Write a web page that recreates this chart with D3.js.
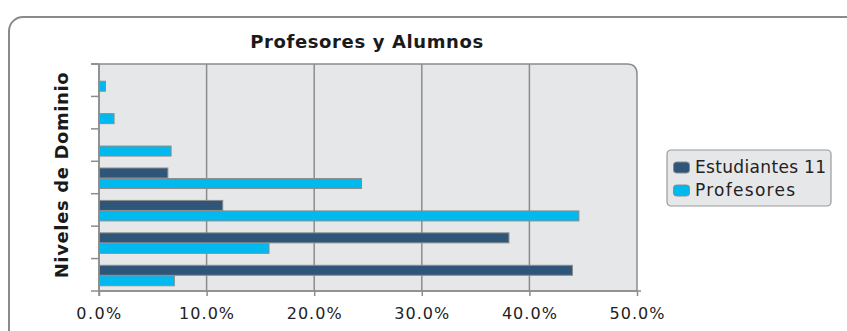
<!DOCTYPE html>
<html><head><meta charset="utf-8">
<script src="https://cdn.jsdelivr.net/npm/d3@7"></script>
<style>body{margin:0;background:#fff;} svg{display:block;font-family:"DejaVu Sans",sans-serif;}</style>
</head><body>
<svg id="c" width="847" height="331"></svg>
<script>
const categories = ["Nivel 1","Nivel 2","Nivel 3","Nivel 4","Nivel 5","Nivel 6","Nivel 7"];
const seriesNames = ["Estudiantes 11","Profesores"];
const estudiantes = [44.0, 38.1, 11.5, 6.4, 0, 0, 0];
const profesores = [7.0, 15.8, 44.6, 24.4, 6.7, 1.4, 0.6];
const xTicks = [0,10,20,30,40,50];
const colors = ["#2f5679","#00b9ef"];
const title = "Profesores y Alumnos";
const yTitle = "Niveles de Dominio";

const svg = d3.select("#c");
function fit(sel, target){
  const node = sel.node();
  const len = node.getComputedTextLength();
  const n = node.textContent.length;
  if(n>1) sel.attr("letter-spacing", ((target-len)/(n-1)).toFixed(2)+"px");
  return sel;
}
// outer frame
svg.append("rect").attr("x",9).attr("y",17).attr("width",860).attr("height",340)
  .attr("rx",14).attr("fill","#fff").attr("stroke","#8a8a8a").attr("stroke-width",2);

const L=99, R=637, T=64, B=291;
const x = d3.scaleLinear().domain([0,50]).range([L,R]);
const y = d3.scaleBand().domain(categories.slice().reverse()).range([T,B]);

// plot background with rounded top-right corner
const rr=10;
svg.append("path").attr("d",`M${L},${T} H${R-rr} Q${R},${T} ${R},${T+rr} V${B} H${L} Z`)
  .attr("fill","#e6e7e9").attr("stroke","#8c8c8c").attr("stroke-width",1.5);
svg.append("line").attr("x1",91).attr("x2",L).attr("y1",T).attr("y2",T).attr("stroke","#8c8c8c").attr("stroke-width",1.5);

// gridlines
svg.append("g").selectAll("line").data(xTicks.slice(1,-1)).join("line")
  .attr("x1",d=>x(d)).attr("x2",d=>x(d)).attr("y1",T).attr("y2",B)
  .attr("stroke","#8c8c8c").attr("stroke-width",1.5);

// bars
const inner = d3.scaleBand().domain(seriesNames).range([0,21]);
const data = categories.map((c,i)=>({c, vals:[estudiantes[i],profesores[i]]}));
const g = svg.append("g");
data.forEach(d=>{
  d.vals.forEach((v,j)=>{
    if(v<=0) return;
    g.append("rect").attr("x",x(0)).attr("y",y(d.c)+y.bandwidth()/2-9.5+inner(seriesNames[j]))
      .attr("width",x(v)-x(0)).attr("height",inner.bandwidth()-0.5)
      .attr("fill",colors[j]).attr("stroke","#8c8c8c").attr("stroke-width",1);
  });
});

// y axis line + ticks at band boundaries
svg.append("line").attr("x1",L).attr("x2",L).attr("y1",T).attr("y2",B+5).attr("stroke","#8c8c8c").attr("stroke-width",1.5);
const bounds = categories.map((c,i)=>T+i*y.step()).concat([B]);
svg.append("g").selectAll("line").data(bounds).join("line")
  .attr("x1",91).attr("x2",L).attr("y1",d=>d).attr("y2",d=>d)
  .attr("stroke","#8c8c8c").attr("stroke-width",1.5);

// x axis
const xAxis = d3.axisBottom(x).tickValues(xTicks).tickFormat(d=>d.toFixed(1)+"%").tickSize(5).tickPadding(12);
const ax = svg.append("g").attr("transform",`translate(0,${B})`).call(xAxis);
ax.select(".domain").attr("d",`M${L},0 H${R+4}`).attr("stroke","#8c8c8c").attr("stroke-width",1.5);
ax.selectAll(".tick line").attr("stroke","#8c8c8c").attr("stroke-width",1.5);
ax.selectAll(".tick text").attr("font-size",16).attr("fill","#222").attr("font-family","'DejaVu Sans',sans-serif")
  .each(function(){ const s=d3.select(this); fit(s, this.textContent.length===4?45:55); });

// title
fit(svg.append("text").attr("x",367).attr("y",48).attr("text-anchor","middle")
  .attr("font-size",18).attr("font-weight","bold").attr("fill","#1a1a1a").text(title), 233);
// y title
fit(svg.append("text").attr("transform","translate(68,175) rotate(-90)").attr("text-anchor","middle")
  .attr("font-size",18).attr("font-weight","bold").attr("fill","#1a1a1a").text(yTitle), 206);

// legend
const lg = svg.append("g").attr("transform","translate(667,150)");
lg.append("rect").attr("width",164).attr("height",56).attr("rx",4).attr("fill","#e6e7e9").attr("stroke","#9a9a9a").attr("stroke-width",1.2);
const lw=[131,100];
seriesNames.forEach((n,i)=>{
  lg.append("rect").attr("x",6.5).attr("y",12+i*23).attr("width",16).attr("height",11).attr("rx",3)
    .attr("fill",colors[i]).attr("stroke","#8c8c8c");
  fit(lg.append("text").attr("x",28).attr("y",23+i*23).attr("font-size",17).attr("fill","#222").text(n), lw[i]);
});
</script>
</body></html>
